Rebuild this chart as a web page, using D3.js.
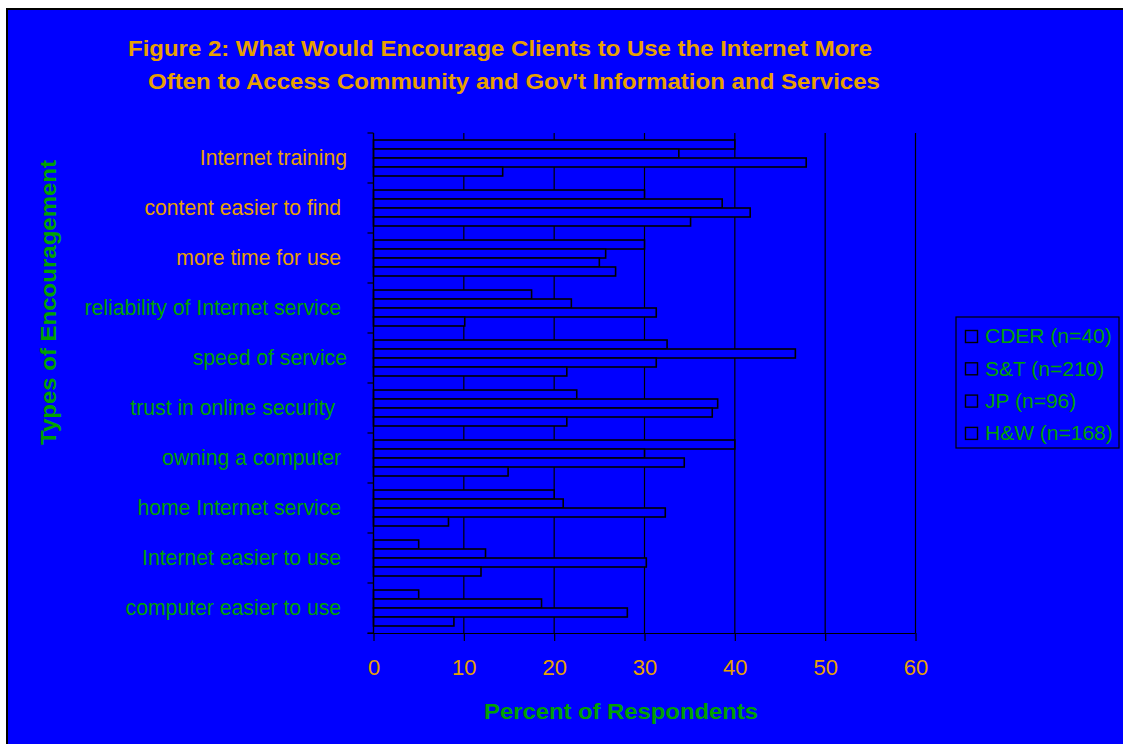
<!DOCTYPE html>
<html>
<head>
<meta charset="utf-8">
<script src="https://cdn.jsdelivr.net/npm/d3@7"></script>
<style>
  html, body { margin: 0; padding: 0; background: #ffffff; }
  svg { display: block; font-family: "Liberation Sans", Arial, sans-serif; }
  .cat { white-space: pre; }
</style>
</head>
<body>
<svg id="chart" width="1123" height="744"></svg>
<script>
// Survey categories, top to bottom
const categories = [
  "Internet training",
  "content easier to find ",
  "more time for use ",
  "reliability of Internet service ",
  "speed of service",
  "trust in online security  ",
  "owning a computer ",
  "home Internet service ",
  "Internet easier to use ",
  "computer easier to use "
];
// Label colours per category
const categoryColors = ["orange", "orange", "orange", "green", "green", "green", "green", "green", "green", "green"];

const seriesNames = ["CDER (n=40)", "S&T (n=210)", "JP (n=96)", "H&W (n=168)"];

// Percent of respondents per group
const cder = [40.0, 30.0, 30.0, 17.5, 32.5, 22.5, 40.0, 20.0, 5.0, 5.0];
const st   = [33.8, 38.6, 25.7, 21.9, 46.7, 38.1, 30.0, 21.0, 12.4, 18.6];
const jp   = [47.9, 41.7, 25.0, 31.3, 31.3, 37.5, 34.4, 32.3, 30.2, 28.1];
const hw   = [14.3, 35.1, 26.8, 10.1, 21.4, 21.4, 14.9, 8.3, 11.9, 8.9];

const xTicks = [0, 10, 20, 30, 40, 50, 60];

const seriesValues = [cder, st, jp, hw];

const BLUE = "#0000ff";
const ORANGE = "#e8a000";
const GREEN = "#00a000";
const colorOf = c => c === "orange" ? ORANGE : GREEN;

const svg = d3.select("#chart");

// Background panel
svg.append("rect")
  .attr("x", 7).attr("y", 9)
  .attr("width", 1130).attr("height", 750)
  .attr("fill", BLUE)
  .attr("stroke", "#000").attr("stroke-width", 2);

// Title (two lines, slightly stretched bold face)
const title = svg.append("g")
  .attr("fill", ORANGE).attr("font-weight", "bold").attr("font-size", 22);
title.append("text").attr("x", 128).attr("y", 56)
  .attr("textLength", 744).attr("lengthAdjust", "spacingAndGlyphs")
  .text("Figure 2: What Would Encourage Clients to Use the Internet More");
title.append("text").attr("x", 148).attr("y", 89)
  .attr("textLength", 732).attr("lengthAdjust", "spacingAndGlyphs")
  .text("Often to Access Community and Gov't Information and Services");

// Plot area
const plot = { left: 373.5, right: 915.5, top: 133, bottom: 633 };

const x = d3.scaleLinear().domain([0, 60]).range([plot.left, plot.right]);
const y = d3.scaleBand().domain(categories).range([plot.top, plot.bottom]);
const ySeries = d3.scaleBand().domain(d3.range(seriesNames.length))
  .range([0, y.bandwidth()]).paddingOuter(0.78);

// Vertical gridlines
svg.append("g").selectAll("line")
  .data(xTicks.filter(t => t > 0))
  .join("line")
  .attr("x1", d => x(d)).attr("x2", d => x(d))
  .attr("y1", plot.top).attr("y2", plot.bottom)
  .attr("stroke", "#000").attr("stroke-width", 1.2);

// Bars
const rows = [];
categories.forEach((c, i) => {
  seriesValues.forEach((vals, s) => rows.push({ cat: c, s, v: vals[i] }));
});
svg.append("g").selectAll("rect")
  .data(rows)
  .join("rect")
  .attr("x", x(0))
  .attr("y", d => y(d.cat) + ySeries(d.s))
  .attr("width", d => x(d.v) - x(0))
  .attr("height", ySeries.bandwidth())
  .attr("fill", BLUE)
  .attr("stroke", "#000").attr("stroke-width", 1.6);

// X axis
const xAxis = svg.append("g")
  .attr("transform", `translate(0,${plot.bottom})`)
  .call(d3.axisBottom(x).tickValues(xTicks).tickSize(8).tickPadding(18).tickSizeOuter(0));
xAxis.select(".domain").attr("stroke", "#000").attr("stroke-width", 1.2)
  .attr("d", `M${plot.left - 6},0.5H${plot.right}`);
xAxis.selectAll(".tick line").attr("stroke", "#000").attr("stroke-width", 1.2);
xAxis.selectAll(".tick text")
  .attr("fill", ORANGE).attr("font-size", 22)
  .attr("font-family", "'Liberation Sans', Arial, sans-serif");

// Y axis: line with ticks at category boundaries
const yAxis = svg.append("g");
yAxis.append("line")
  .attr("x1", plot.left).attr("x2", plot.left)
  .attr("y1", plot.top).attr("y2", plot.bottom)
  .attr("stroke", "#000").attr("stroke-width", 1.4);
yAxis.selectAll("line.tk")
  .data(d3.range(categories.length + 1))
  .join("line").attr("class", "tk")
  .attr("x1", plot.left - 6).attr("x2", plot.left)
  .attr("y1", i => plot.top + i * y.step()).attr("y2", i => plot.top + i * y.step())
  .attr("stroke", "#000").attr("stroke-width", 1.2);

// Category labels
svg.append("g").selectAll("text")
  .data(categories)
  .join("text")
  .attr("class", "cat")
  .attr("x", 347)
  .attr("y", d => y(d) + y.bandwidth() / 2)
  .attr("dy", "0.35em")
  .attr("text-anchor", "end")
  .attr("font-size", 21.2)
  .attr("fill", (d, i) => colorOf(categoryColors[i]))
  .text(d => d);

// Axis titles
svg.append("text")
  .attr("x", 484).attr("y", 719)
  .attr("font-weight", "bold").attr("font-size", 22.5)
  .attr("textLength", 274).attr("lengthAdjust", "spacingAndGlyphs")
  .attr("fill", GREEN)
  .text("Percent of Respondents");

svg.append("text")
  .attr("transform", "translate(56,445) rotate(-90)")
  .attr("font-weight", "bold").attr("font-size", 22.5)
  .attr("textLength", 285).attr("lengthAdjust", "spacingAndGlyphs")
  .attr("fill", GREEN)
  .text("Types of Encouragement");

// Legend
const legend = svg.append("g").attr("transform", "translate(956,317)");
legend.append("rect")
  .attr("x", 0).attr("y", 0).attr("width", 163).attr("height", 131)
  .attr("fill", BLUE).attr("stroke", "#000").attr("stroke-width", 1.2);
const items = legend.selectAll("g.item")
  .data(seriesNames)
  .join("g").attr("class", "item")
  .attr("transform", (d, i) => `translate(0,${19 + i * 32.3})`);
items.append("rect")
  .attr("x", 9.5).attr("y", -5.5).attr("width", 12).attr("height", 12)
  .attr("fill", BLUE).attr("stroke", "#000").attr("stroke-width", 1.4);
items.append("text")
  .attr("x", 29).attr("y", 0).attr("dy", "0.35em")
  .attr("font-size", 21)
  .attr("fill", GREEN)
  .text(d => d);
</script>
</body>
</html>
